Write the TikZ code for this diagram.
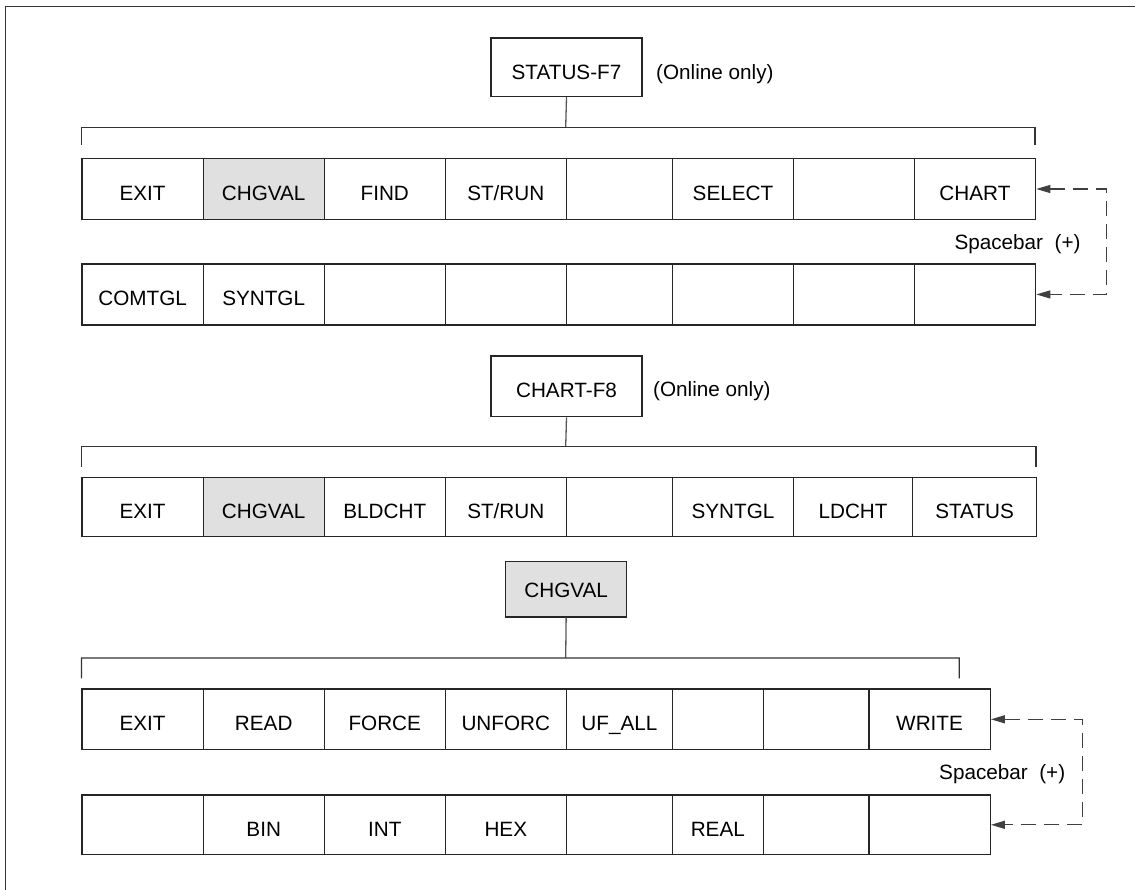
\documentclass[tikz,border=0pt]{standalone}
\usepackage{fontspec}
\setmainfont{Liberation Sans}
\usetikzlibrary{arrows.meta}
\tikzset{
  txt/.style={font=\fontsize{20.7}{24}\selectfont, text=black},
  cell/.style={txt, draw=black!85, line width=1.3pt, rectangle, inner sep=0pt,
    anchor=north west, text height=22.8pt, text depth=0pt},
  plain/.style={},
  hl/.style={fill=black!12},
  link/.style={draw=black!65, line width=1.3pt},
  brace/.style={draw=black!80, line width=1.3pt},
  dasharrow/.style={draw=black!75, line width=1.3pt, dash pattern=on 15pt off 8pt,
    {Triangle[length=14pt,width=8pt]}-{Triangle[length=14pt,width=8pt]}},
}
\begin{document}
\begin{tikzpicture}[x=1pt,y=-1pt]
\useasboundingbox (0,0) rectangle (1135,890);
\begin{scope}
\clip (0,0) rectangle (1135,890);
\draw[draw=black!80, line width=1.3pt] (5.7,6.7) rectangle (1145,900);
\end{scope}

% ---------- STATUS-F7 ----------
\node[cell, minimum width=151.1pt, minimum height=58.4pt, text height=25pt] (status) at (490.3,37.3) {STATUS-F7};
\node[txt, anchor=base west, inner sep=0pt] (onl1) at (656,79.3) {(Online only)};

\foreach \x/\w/\t/\s [count=\i] in {81.4/121.1/EXIT/plain, 202.5/121.1/CHGVAL/hl, 323.6/121/FIND/plain, 444.6/121.1/{ST/RUN}/plain, 565.7/106.1/{}/plain, 671.8/121.1/SELECT/plain, 792.9/120.7/{}/plain, 913.6/121.4/CHART/plain}
  \node[cell, \s, minimum width=\w pt, minimum height=61.3pt] (a\i) at (\x,157.7) {\t};

\foreach \x/\w/\t [count=\i] in {81.4/121.1/COMTGL, 202.5/121.1/SYNTGL, 323.6/121/{}, 444.6/121.1/{}, 565.7/106.1/{}, 671.8/121.1/{}, 792.9/120.7/{}, 913.6/121.4/{}}
  \node[cell, minimum width=\w pt, minimum height=61pt] (b\i) at (\x,263.3) {\t};

\coordinate (jA) at (565.7,127.3);
\coordinate (lA) at (81.4,145);
\coordinate (rA) at (1035,145);
\draw[link] (status.south) -- (jA);
\draw[brace] (lA) -- ++(0,-17.7) -- ++(953.6,0) -- (rA);

\draw[dasharrow] (a8.east) -- ++(70.4,0) |- (b8.east);
\node[txt, anchor=base east, inner sep=0pt] (sp1) at (1080.7,249.3) {Spacebar\ \ (+)};

% ---------- CHART-F8 ----------
\node[cell, minimum width=151.1pt, minimum height=60.7pt, text height=22.8pt] (chart) at (490.3,355.3) {CHART-F8};
\node[txt, anchor=base west, inner sep=0pt] (onl2) at (653,396) {(Online only)};

\foreach \x/\w/\t/\s [count=\i] in {81.4/121.1/EXIT/plain, 202.5/121.1/CHGVAL/hl, 323.6/121/BLDCHT/plain, 444.6/121.1/{ST/RUN}/plain, 565.7/106.1/{}/plain, 671.8/121.1/SYNTGL/plain, 792.9/119/LDCHT/plain, 911.9/124.1/STATUS/plain}
  \node[cell, \s, minimum width=\w pt, minimum height=59.3pt] (c\i) at (\x,476.7) {\t};

\coordinate (jC) at (565.7,446.7);
\coordinate (lC) at (81.4,466.7);
\coordinate (rC) at (1036,466.7);
\draw[link] (chart.south) -- (jC);
\draw[brace] (lC) -- ++(0,-20) -- ++(954.6,0) -- (rC);

% ---------- CHGVAL ----------
\node[cell, hl, minimum width=121pt, minimum height=55.3pt, text height=16.8pt] (chg) at (505,561) {CHGVAL};

\foreach \x/\w/\t [count=\i] in {81.4/121.1/EXIT, 202.5/121.1/READ, 323.6/121/FORCE, 444.6/121.1/UNFORC, 565.7/106.1/UF\_ALL, 671.8/90.7/{}, 762.5/105.7/{}, 868.2/121.4/WRITE}
  \node[cell, minimum width=\w pt, minimum height=60.7pt] (d\i) at (\x,688.3) {\t};

\foreach \x/\w/\t [count=\i] in {81.4/121.1/{}, 202.5/121.1/BIN, 323.6/121/INT, 444.6/121.1/HEX, 565.7/106.1/{}, 671.8/90.7/REAL, 762.5/105.7/{}, 868.2/121.4/{}}
  \node[cell, minimum width=\w pt, minimum height=59.7pt] (e\i) at (\x,794.3) {\t};

\coordinate (jD) at (565.7,658);
\coordinate (lD) at (81.4,678.3);
\coordinate (rD) at (959.3,678.3);
\draw[link] (chg.south) -- (jD);
\draw[brace] (lD) -- ++(0,-20.3) -- ++(877.9,0) -- (rD);

\draw[dasharrow] (d8.east) -- ++(91.8,0) |- (e8.east);
\node[txt, anchor=base east, inner sep=0pt] (sp2) at (1065.4,779.3) {Spacebar\ \ (+)};
\end{tikzpicture}
\end{document}
